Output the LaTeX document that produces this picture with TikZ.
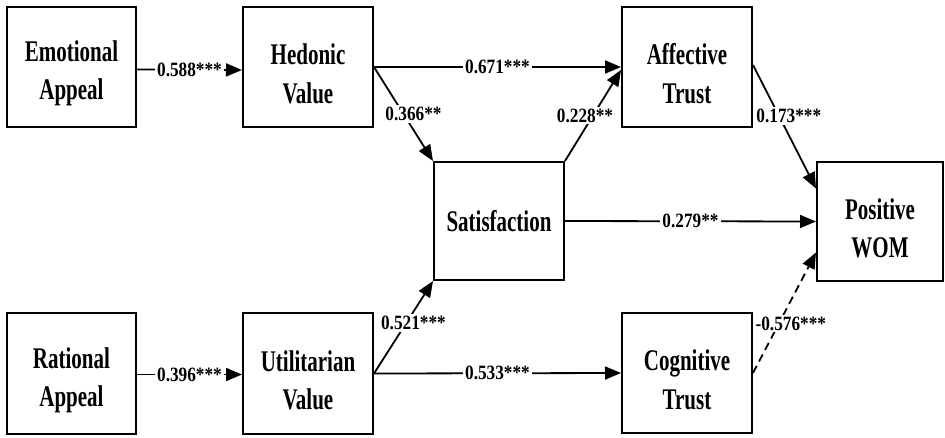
\documentclass[tikz,border=0pt]{standalone}
\usepackage{fontspec}
\setmainfont{Liberation Serif}
\newfontfamily\boxfont{Liberation Serif}[FakeStretch=0.70]
\newfontfamily\coeffont{Liberation Serif}[FakeStretch=0.85]
\usetikzlibrary{arrows.meta}
% extra room above the first line pushes two-line labels slightly down
\newcommand{\topgap}{\rule{0pt}{34pt}}
\begin{document}
\begin{tikzpicture}[x=1pt,y=-1pt,
  construct/.style={draw, line width=2pt, align=center, inner sep=0pt,
    font=\boxfont\bfseries\fontsize{30}{38.5}\selectfont},
  path/.style={line width=1.8pt, -{Triangle[length=16pt,width=13pt]}},
  coef/.style={fill=white, inner sep=2pt,
    font=\coeffont\bfseries\fontsize{20.3}{22}\selectfont}]
\useasboundingbox (0,0) rectangle (945,437);

% constructs
\node[construct, minimum width=129pt, minimum height=120pt] (EA) at (71.5,66.5) {\topgap Emotional\\Appeal};
\node[construct, minimum width=130pt, minimum height=120pt] (HV) at (308,67) {\topgap Hedonic\\Value};
\node[construct, minimum width=130pt, minimum height=120pt] (AT) at (687,67) {\topgap Affective\\Trust};
\node[construct, minimum width=130pt, minimum height=118pt] (SAT) at (499,221) {Satisfaction};
\node[construct, minimum width=126pt, minimum height=119pt] (WOM) at (880,221.5) {\topgap Positive\\WOM};
\node[construct, minimum width=129pt, minimum height=121pt] (RA) at (71.5,373.5) {\topgap Rational\\Appeal};
\node[construct, minimum width=130pt, minimum height=121pt] (UV) at (308,373.5) {\topgap Utilitarian\\Value};
\node[construct, minimum width=130pt, minimum height=120pt] (CT) at (687,373) {\topgap Cognitive\\Trust};

% structural paths
\draw[path] ([yshift=-3pt]EA.east) -- node[coef] {0.588***} ([yshift=-3pt]HV.west);
\draw[path] (HV.east) -- node[coef] {0.671***} (AT.west);
\draw[path] (HV.east) -- node[coef, pos=0.5, xshift=10pt] {0.366**} (SAT.north west);
\draw[path] (SAT.north east) -- node[coef, pos=0.5, xshift=-8pt] {0.228**} ([yshift=-3pt]AT.west);
\draw[path] ([yshift=2pt]AT.east) -- node[coef, pos=0.41, xshift=10pt] {0.173***} ([yshift=33pt]WOM.west);
\draw[path] (SAT.east) -- node[coef] {0.279**} (WOM.west);
\draw[path] ([yshift=-1pt]RA.east) -- node[coef] {0.396***} ([yshift=-1pt]UV.west);
\draw[path] (UV.east) -- node[coef, pos=0.55, xshift=7pt] {0.521***} (SAT.south west);
\draw[path] (UV.east) -- node[coef] {0.533***} (CT.west);
\draw[path, dashed, dash pattern=on 8pt off 5pt] (CT.east) -- node[coef, pos=0.41, xshift=12pt] {-0.576***} ([yshift=-31pt]WOM.west);
\end{tikzpicture}
\end{document}
